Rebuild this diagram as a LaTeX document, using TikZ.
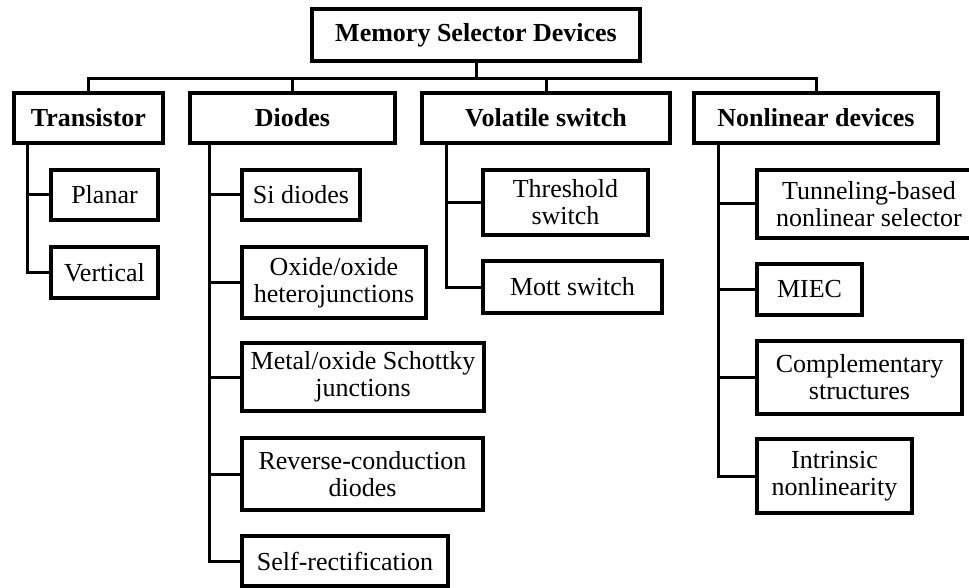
\documentclass[tikz,border=0pt]{standalone}
\usepackage{fontspec}
\setmainfont{Liberation Serif}
\usepackage{tikz}
\usetikzlibrary{positioning}
\usetikzlibrary{calc}
\tikzset{box/.style={draw=black, line width=3.4pt, inner sep=0pt, align=center,
    font=\fontsize{26}{27}\selectfont},
  headbox/.style={box, font=\fontsize{26}{27}\selectfont\bfseries},
  link/.style={line width=3pt}}

\begin{document}
\begin{tikzpicture}[x=1pt,y=-1pt]
  \useasboundingbox (0,0) rectangle (969,588);
  \node[headbox, minimum width=328pt, minimum height=52pt] (msd) at (476,35) {Memory Selector Devices};
  \coordinate (bus) at (476,79);
  % first level
  \node[headbox, minimum width=149pt, minimum height=50pt] (tr) at (88.5,118) {Transistor};
  \node[headbox, minimum width=205pt, minimum height=50pt] (di) at (292.5,118) {Diodes};
  \node[headbox, minimum width=248pt, minimum height=50pt] (vs) at (546,118) {Volatile switch};
  \node[headbox, minimum width=244pt, minimum height=50pt] (nl) at (816,118) {Nonlinear devices};
  \draw[link] (msd.south) -- (bus);
  \draw[link] (tr.north) -- (tr.north |- bus) -- (nl.north |- bus) -- (nl.north);
  \foreach \n in {di,vs}
    \draw[link] (\n.north) -- (\n.north |- bus);
  % transistor
  \node[box, minimum width=107pt, minimum height=50pt] (planar) at (104.5,195) {Planar};
  \node[box, minimum width=107pt, minimum height=51pt] (vert) at (104.5,272.5) {Vertical};
  \coordinate (trspine) at (27,145);
  \foreach \n in {planar,vert}
    \draw[link] (trspine) |- (\n.west);
  % diodes
  \node[box, minimum width=118pt, minimum height=50pt] (si) at (301,195) {Si diodes};
  \node[box, minimum width=184pt, minimum height=71pt] (oxox) at (334,282.5) {Oxide/oxide\\heterojunctions};
  \node[box, minimum width=242pt, minimum height=68pt] (schottky) at (363,377) {Metal/oxide Schottky\\junctions};
  \node[box, minimum width=241pt, minimum height=72pt] (revcon) at (362.5,474) {Reverse-conduction\\diodes};
  \node[box, minimum width=206pt, minimum height=50pt] (selfrec) at (345,561) {Self-rectification};
  \coordinate (dispine) at (209,145);
  \foreach \n in {si,oxox,schottky,revcon,selfrec}
    \draw[link] (dispine) |- (\n.west);
  % volatile switch
  \node[box, minimum width=165pt, minimum height=65pt] (thresh) at (565.5,202.5) {Threshold\\switch};
  \node[box, minimum width=179pt, minimum height=52pt] (mott) at (572.5,287) {Mott switch};
  \coordinate (vsspine) at (446,145);
  \foreach \n in {thresh,mott}
    \draw[link] (vsspine) |- (\n.west);
  % nonlinear devices
  \node[box, minimum width=224pt, minimum height=68pt] (tunnel) at (869,204) {Tunneling-based\\nonlinear selector};
  \node[box, minimum width=105pt, minimum height=51pt] (miec) at (809.5,289.5) {MIEC};
  \node[box, minimum width=205pt, minimum height=73pt] (compl) at (859.5,377.5) {Complementary\\structures};
  \node[box, minimum width=155pt, minimum height=74pt] (intr) at (834.5,476) {Intrinsic\\nonlinearity};
  \coordinate (nlspine) at (718,145);
  \foreach \n in {tunnel,miec,compl,intr}
    \draw[link] (nlspine) |- (\n.west);
\end{tikzpicture}
\end{document}
